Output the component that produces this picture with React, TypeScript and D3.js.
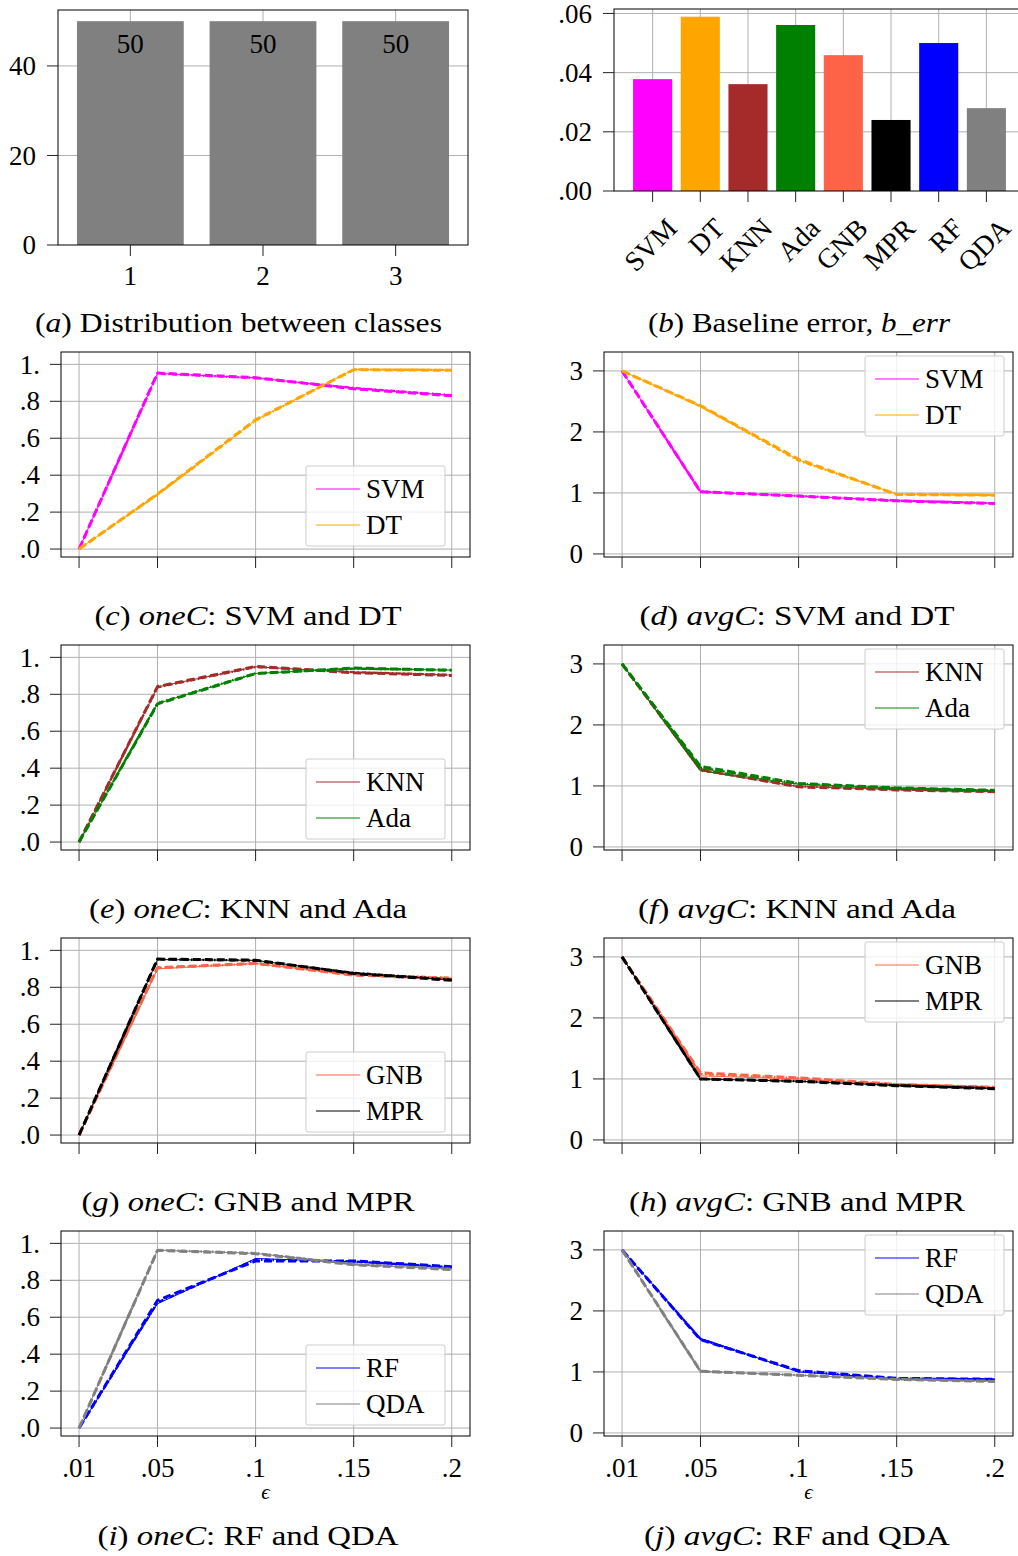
import React from 'react';
import * as d3 from 'd3';

const FONT = "'Liberation Serif', 'DejaVu Serif', serif";
const GRID = '#b0b0b0';
const FS = 27;

// (a) distribution between classes
const classLabels = ['1', '2', '3'];
const classCounts = [50, 50, 50];
const countTicks = [0, 20, 40];

// (b) baseline error
const models = ['SVM', 'DT', 'KNN', 'Ada', 'GNB', 'MPR', 'RF', 'QDA'];
const modelColors = ['#ff00ff', '#ffa500', '#a52a2a', '#008000', '#ff6347', '#000000', '#0000ff', '#808080'];
const baselineErr = [0.0378, 0.0589, 0.0361, 0.0561, 0.0459, 0.024, 0.05, 0.028];
const errTicks = [0, 0.02, 0.04, 0.06];
const errTickLabels = ['.00', '.02', '.04', '.06'];

// epsilon axis
const eps = [0.01, 0.05, 0.1, 0.15, 0.2];
const epsLabels = ['.01', '.05', '.1', '.15', '.2'];
const oneTicks = [0, 0.2, 0.4, 0.6, 0.8, 1];
const oneTickLabels = ['.0', '.2', '.4', '.6', '.8', '1.'];
const avgTicks = [0, 1, 2, 3];
const avgTickLabels = ['0', '1', '2', '3'];

// every classifier: [solid, dashed, dash-dot] runs
const oneC_SVM = [[0, 0.951, 0.927, 0.870, 0.832], [0, 0.953, 0.928, 0.868, 0.83], [0, 0.95, 0.926, 0.872, 0.833]];
const oneC_DT = [[0, 0.296, 0.698, 0.973, 0.969], [0, 0.298, 0.7, 0.971, 0.968], [0, 0.295, 0.696, 0.972, 0.97]];
const avgC_SVM = [[3, 1.02, 0.95, 0.872, 0.83], [3, 1.02, 0.948, 0.87, 0.826], [3, 1.018, 0.952, 0.874, 0.832]];
const avgC_DT = [[3, 2.42, 1.54, 0.98, 0.966], [3, 2.43, 1.55, 0.975, 0.963], [3, 2.42, 1.53, 0.98, 0.968]];
const oneC_KNN = [[0, 0.84, 0.949, 0.919, 0.904], [0, 0.842, 0.951, 0.917, 0.902], [0, 0.838, 0.948, 0.92, 0.905]];
const oneC_Ada = [[0, 0.75, 0.913, 0.94, 0.931], [0, 0.748, 0.912, 0.942, 0.93], [0, 0.752, 0.914, 0.939, 0.932]];
const avgC_KNN = [[3, 1.25, 0.99, 0.94, 0.91], [3, 1.27, 0.985, 0.935, 0.905], [3, 1.26, 0.995, 0.942, 0.912]];
const avgC_Ada = [[3, 1.25, 1.03, 0.965, 0.926], [3, 1.32, 1.04, 0.968, 0.928], [3, 1.3, 1.036, 0.962, 0.924]];
const oneC_GNB = [[0, 0.9, 0.929, 0.868, 0.85], [0, 0.906, 0.93, 0.866, 0.848], [0, 0.904, 0.928, 0.87, 0.851]];
const oneC_MPR = [[0, 0.95, 0.946, 0.877, 0.84], [0, 0.953, 0.947, 0.875, 0.838], [0, 0.952, 0.945, 0.878, 0.841]];
const avgC_GNB = [[3, 1.05, 1.0, 0.905, 0.864], [3, 1.1, 1.017, 0.91, 0.862], [3, 1.08, 1.01, 0.908, 0.866]];
const avgC_MPR = [[3, 1.0, 0.962, 0.892, 0.843], [3, 1.0, 0.96, 0.89, 0.84], [3, 0.998, 0.964, 0.893, 0.845]];
const oneC_RF = [[0, 0.673, 0.918, 0.9, 0.869], [0, 0.691, 0.905, 0.905, 0.874], [0, 0.68, 0.912, 0.902, 0.871]];
const oneC_QDA = [[0, 0.963, 0.946, 0.886, 0.86], [0, 0.962, 0.944, 0.884, 0.858], [0, 0.964, 0.947, 0.887, 0.862]];
const avgC_RF = [[3, 1.55, 1.0, 0.89, 0.876], [3, 1.53, 1.02, 0.895, 0.88], [3, 1.54, 1.01, 0.892, 0.878]];
const avgC_QDA = [[3, 1.01, 0.946, 0.88, 0.848], [3, 1.012, 0.944, 0.878, 0.845], [3, 1.008, 0.948, 0.882, 0.85]];

const styles = [
  { w: 1, dash: null },
  { w: 3, dash: '8 4' },
  { w: 2.4, dash: '5 2.5 1.5 2.5' },
];

const colLeft = [61, 604];
const rowTop = [352, 645, 938, 1231];
const PW = 409;
const PH = 205;
const capX = [248, 797];

function Caption({ x, y, letter, kind, text, len }) {
  return (
    <text x={x} y={y} textAnchor="middle" fontSize={FS} fontFamily={FONT} textLength={len} lengthAdjust="spacingAndGlyphs">
      (<tspan fontStyle="italic">{letter}</tspan>){' '}
      {kind ? <tspan fontStyle="italic">{kind}</tspan> : null}
      {text}
    </text>
  );
}

function DistPanel() {
  const left = 58, right = 468, top = 10, bottom = 245;
  const x = d3.scaleBand().domain(classLabels).range([left, right]).paddingInner(0.195).paddingOuter(0.143);
  const y = d3.scaleLinear().domain([0, 52.5]).range([bottom, top]);
  return (
    <g>
      {countTicks.slice(1).map(t => (
        <line key={'h' + t} x1={left} x2={right} y1={y(t)} y2={y(t)} stroke={GRID} />
      ))}
      {classLabels.map(c => (
        <line key={'v' + c} x1={x(c) + x.bandwidth() / 2} x2={x(c) + x.bandwidth() / 2} y1={top} y2={bottom} stroke={GRID} />
      ))}
      {classLabels.map((c, i) => (
        <g key={c}>
          <rect x={x(c)} y={y(classCounts[i])} width={x.bandwidth()} height={bottom - y(classCounts[i])} fill="#808080" />
          <text x={x(c) + x.bandwidth() / 2} y={y(classCounts[i]) + 32} textAnchor="middle" fontSize={FS} fontFamily={FONT}>
            {classCounts[i]}
          </text>
        </g>
      ))}
      <rect x={left} y={top} width={right - left} height={bottom - top} fill="none" stroke="#000" />
      {countTicks.map(t => (
        <g key={t}>
          <line x1={left - 11} x2={left} y1={y(t)} y2={y(t)} stroke="#222" />
          <text x={left - 22} y={y(t)} dy="0.34em" textAnchor="end" fontSize={FS} fontFamily={FONT}>{t}</text>
        </g>
      ))}
      {classLabels.map(c => (
        <g key={'t' + c}>
          <line x1={x(c) + x.bandwidth() / 2} x2={x(c) + x.bandwidth() / 2} y1={bottom} y2={bottom + 11} stroke="#222" />
          <text x={x(c) + x.bandwidth() / 2} y={bottom + 40} textAnchor="middle" fontSize={FS} fontFamily={FONT}>{c}</text>
        </g>
      ))}
      <Caption x={238.5} y={332} letter="a" kind={null} text="Distribution between classes" len={407} />
    </g>
  );
}

function ErrPanel() {
  const left = 614, right = 1025, top = 9, bottom = 191;
  const x = d3.scaleBand().domain(models).range([left, right]).paddingInner(0.18).paddingOuter(0.4);
  const y = d3.scaleLinear().domain([0, 0.0615]).range([bottom, top]);
  const cx = m => x(m) + x.bandwidth() / 2;
  return (
    <g>
      {errTicks.slice(1).map(t => (
        <line key={'h' + t} x1={left} x2={right} y1={y(t)} y2={y(t)} stroke={GRID} />
      ))}
      {models.map(m => (
        <line key={'v' + m} x1={cx(m)} x2={cx(m)} y1={top} y2={bottom} stroke={GRID} />
      ))}
      {models.map((m, i) => (
        <rect key={m} x={x(m)} y={y(baselineErr[i])} width={x.bandwidth()} height={bottom - y(baselineErr[i])} fill={modelColors[i]} />
      ))}
      <rect x={left} y={top} width={right - left} height={bottom - top} fill="none" stroke="#000" />
      {errTicks.map((t, i) => (
        <g key={t}>
          <line x1={left - 11} x2={left} y1={y(t)} y2={y(t)} stroke="#222" />
          <text x={left - 22} y={y(t)} dy="0.34em" textAnchor="end" fontSize={FS} fontFamily={FONT}>{errTickLabels[i]}</text>
        </g>
      ))}
      {models.map(m => (
        <g key={'t' + m}>
          <line x1={cx(m)} x2={cx(m)} y1={bottom} y2={bottom + 11} stroke="#222" />
          <text transform={`translate(${cx(m) + 26},${bottom + 39}) rotate(-45)`} textAnchor="end" fontSize={28} fontFamily={FONT}>{m}</text>
        </g>
      ))}
      <text x={799} y={332} textAnchor="middle" fontSize={FS} fontFamily={FONT} textLength={302} lengthAdjust="spacingAndGlyphs">
        (<tspan fontStyle="italic">b</tspan>) Baseline error, <tspan fontStyle="italic">b_err</tspan>
      </text>
    </g>
  );
}

function LinePanel({ col, row, avg, series, letter, title, capLen }) {
  const left = colLeft[col], top = rowTop[row];
  const right = left + PW, bottom = top + PH;
  const x = d3.scaleLinear().domain([0.0008, 0.2093]).range([left, right]);
  const y = d3.scaleLinear().domain(avg ? [-0.05, 3.31] : [-0.043, 1.067]).range([bottom, top]);
  const ticks = avg ? avgTicks : oneTicks;
  const tickLabels = avg ? avgTickLabels : oneTickLabels;
  const line = d3.line().x((d, i) => x(eps[i])).y(d => y(d));
  const lastRow = row === rowTop.length - 1;
  const lg = col === 0 ? { x: right - 164, y: bottom - 91 } : { x: right - 148, y: top + 4 };
  return (
    <g>
      {ticks.map(t => (
        <line key={'h' + t} x1={left} x2={right} y1={y(t)} y2={y(t)} stroke={GRID} />
      ))}
      {eps.map(e => (
        <line key={'v' + e} x1={x(e)} x2={x(e)} y1={top} y2={bottom} stroke={GRID} />
      ))}
      {series.map(s =>
        s.runs.map((r, k) => (
          <path key={s.name + k} d={line(r)} fill="none" stroke={s.color} strokeWidth={styles[k].w}
            strokeDasharray={styles[k].dash || undefined} strokeLinejoin="round" />
        ))
      )}
      <rect x={left} y={top} width={PW} height={PH} fill="none" stroke="#000" />
      {ticks.map((t, i) => (
        <g key={t}>
          <line x1={left - 11} x2={left} y1={y(t)} y2={y(t)} stroke="#222" />
          <text x={left - 21} y={y(t)} dy="0.34em" textAnchor="end" fontSize={FS} fontFamily={FONT}>{tickLabels[i]}</text>
        </g>
      ))}
      {eps.map((e, i) => (
        <g key={'t' + e}>
          <line x1={x(e)} x2={x(e)} y1={bottom} y2={bottom + 11} stroke="#222" />
          {lastRow ? (
            <text x={x(e)} y={bottom + 41} textAnchor="middle" fontSize={FS} fontFamily={FONT}>{epsLabels[i]}</text>
          ) : null}
        </g>
      ))}
      {lastRow ? (
        <text x={(left + right) / 2} y={bottom + 63} textAnchor="middle" fontSize={21} fontStyle="italic" fontFamily={FONT}>ϵ</text>
      ) : null}
      <g>
        <rect x={lg.x} y={lg.y} width={139} height={80} rx={2} fill="#fff" fillOpacity={0.8} stroke="#cccccc" />
        {series.map((s, i) => (
          <g key={'lg' + s.name}>
            <line x1={lg.x + 10} x2={lg.x + 54} y1={lg.y + 23 + i * 36} y2={lg.y + 23 + i * 36} stroke={s.color} strokeWidth={1} />
            <text x={lg.x + 60} y={lg.y + 32 + i * 36} fontSize={FS} fontFamily={FONT}>{s.name}</text>
          </g>
        ))}
      </g>
      <Caption x={capX[col]} y={lastRow ? bottom + 109 : bottom + 68} letter={letter} kind={avg ? 'avgC' : 'oneC'} text={': ' + title} len={capLen} />
    </g>
  );
}

const sv = (name, runs) => ({ name, color: modelColors[models.indexOf(name)], runs });

export default function App() {
  return (
    <svg width={1018} height={1556} style={{ position: 'absolute', left: 0, top: 0, background: '#fff' }}>
      <rect width={1018} height={1556} fill="#fff" />
      <DistPanel />
      <ErrPanel />
      <LinePanel col={0} row={0} avg={false} letter="c" title="SVM and DT" capLen={307} series={[sv('SVM', oneC_SVM), sv('DT', oneC_DT)]} />
      <LinePanel col={1} row={0} avg={true} letter="d" title="SVM and DT" capLen={315} series={[sv('SVM', avgC_SVM), sv('DT', avgC_DT)]} />
      <LinePanel col={0} row={1} avg={false} letter="e" title="KNN and Ada" capLen={318} series={[sv('KNN', oneC_KNN), sv('Ada', oneC_Ada)]} />
      <LinePanel col={1} row={1} avg={true} letter="f" title="KNN and Ada" capLen={318} series={[sv('KNN', avgC_KNN), sv('Ada', avgC_Ada)]} />
      <LinePanel col={0} row={2} avg={false} letter="g" title="GNB and MPR" capLen={333} series={[sv('GNB', oneC_GNB), sv('MPR', oneC_MPR)]} />
      <LinePanel col={1} row={2} avg={true} letter="h" title="GNB and MPR" capLen={336} series={[sv('GNB', avgC_GNB), sv('MPR', avgC_MPR)]} />
      <LinePanel col={0} row={3} avg={false} letter="i" title="RF and QDA" capLen={301} series={[sv('RF', oneC_RF), sv('QDA', oneC_QDA)]} />
      <LinePanel col={1} row={3} avg={true} letter="j" title="RF and QDA" capLen={306} series={[sv('RF', avgC_RF), sv('QDA', avgC_QDA)]} />
    </svg>
  );
}
